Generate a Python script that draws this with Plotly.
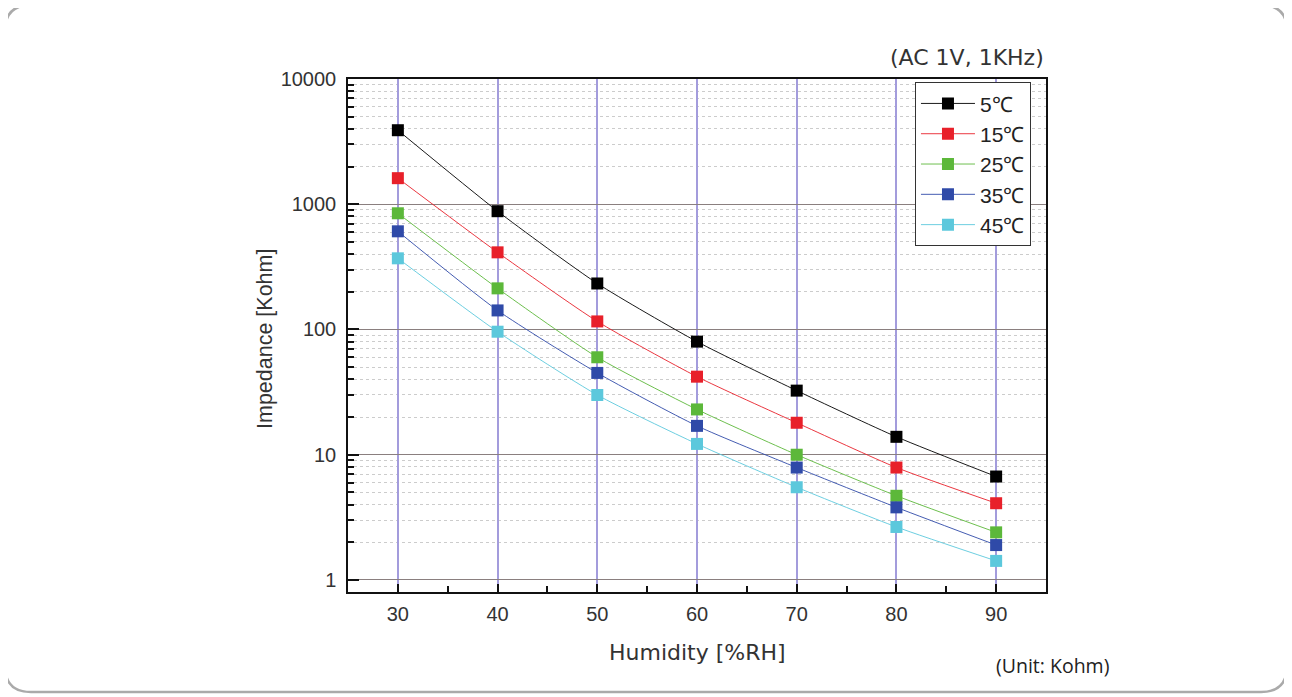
import plotly.graph_objects as go

humidity = [30, 40, 50, 60, 70, 80, 90]
series_names = ["5℃", "15℃", "25℃", "35℃", "45℃"]
imp_5 = [3900, 880, 233, 80, 32.5, 13.9, 6.7]
imp_15 = [1615, 413, 116, 42, 18, 7.9, 4.1]
imp_25 = [847, 213, 60, 23, 10, 4.7, 2.4]
imp_35 = [608, 142, 45, 17, 7.9, 3.8, 1.9]
imp_45 = [370, 96, 30, 12.2, 5.5, 2.65, 1.42]
colors = ["#000000", "#e8202a", "#5cb83a", "#2f4aa8", "#5cc8dc"]
y_tickvals = [1, 10, 100, 1000, 10000]
y_ticktext = ["1", "10", "100", "1000", "10000"]
x_tickvals = [30, 40, 50, 60, 70, 80, 90]
x_minor = [35, 45, 55, 65, 75, 85]

all_series = [imp_5, imp_15, imp_25, imp_35, imp_45]

fig = go.Figure()
for name, vals, c in zip(series_names, all_series, colors):
    fig.add_trace(go.Scatter(
        x=humidity, y=vals, name=name, mode="lines+markers",
        line=dict(color=c, width=0.9, shape="spline", smoothing=0.6),
        marker=dict(symbol="square", size=12, color=c),
    ))

minor_y = [m * 10 ** e for e in range(0, 4) for m in range(2, 10)]

# page body has an 8px margin: figure coords = page coords - 8
OFF = 8
FW, FH = 1284, 689
L, R, T, B = 348 - OFF, 1046 - OFF, 79 - OFF, 592 - OFF
W, H = R - L, B - T


def px(x):
    return (x - OFF - L) / W


def py(y):
    return (B - (y - OFF)) / H


# rounded outer border (page coords)
x0, x1, y0, y1, r = 5, 1287, 5, 692, 26
path = (f"M {px(x0 + r)},{py(y0)} L {px(x1 - r)},{py(y0)} "
        f"Q {px(x1)},{py(y0)} {px(x1)},{py(y0 + r)} "
        f"L {px(x1)},{py(y1 - r)} Q {px(x1)},{py(y1)} {px(x1 - r)},{py(y1)} "
        f"L {px(x0 + r)},{py(y1)} Q {px(x0)},{py(y1)} {px(x0)},{py(y1 - r)} "
        f"L {px(x0)},{py(y0 + r)} Q {px(x0)},{py(y0)} {px(x0 + r)},{py(y0)} Z")

fig.update_layout(
    width=FW, height=FH,
    margin=dict(l=L, r=FW - R, t=T, b=FH - B),
    paper_bgcolor="white", plot_bgcolor="white",
    font=dict(family="Liberation Sans, Arial, sans-serif", color="#333333"),
    showlegend=True,
    legend=dict(x=0.812, y=0.994, xanchor="left", yanchor="top",
                bgcolor="white", bordercolor="#333333", borderwidth=1.2,
                font=dict(size=21, color="#222222"), itemwidth=54,
                tracegroupgap=0),
    xaxis=dict(range=[25, 95], tickvals=x_tickvals, ticks="inside", ticklen=8,
               tickwidth=1.5, tickcolor="#111",
               showline=True, linecolor="#111", linewidth=1.5, mirror=True,
               showgrid=True, gridcolor="#a39cdc", gridwidth=1.5,
               tickfont=dict(size=20, color="#333"), ticklabelstandoff=3,
               minor=dict(tickvals=x_minor, ticks="inside", ticklen=6,
                          tickcolor="#111", showgrid=False),
               zeroline=False),
    yaxis=dict(type="log", range=[-0.096, 4.0], tickvals=y_tickvals, ticktext=y_ticktext,
               ticks="inside", ticklen=11, tickwidth=1.5, tickcolor="#111",
               showline=True, linecolor="#111", linewidth=1.5, mirror=True,
               showgrid=True, gridcolor="#8a7f7f", gridwidth=1,
               tickfont=dict(size=20, color="#333"), ticklabelstandoff=6,
               minor=dict(tickvals=minor_y, ticks="inside", ticklen=6, tickcolor="#111",
                          showgrid=True, gridcolor="#cccccc", griddash="dot", gridwidth=1),
               zeroline=False),
    shapes=[dict(type="path", xref="paper", yref="paper", path=path,
                 line=dict(color="#aaaaaa", width=2.5), layer="below")],
    annotations=[
        dict(text="(AC 1V, 1KHz)", xref="paper", yref="paper", x=px(1046), y=py(58),
             xanchor="right", yanchor="middle", showarrow=False,
             font=dict(family="DejaVu Sans", size=22, color="#333")),
        dict(text="(Unit: Kohm)", xref="paper", yref="paper", x=px(1111), y=py(665),
             xanchor="right", yanchor="middle", showarrow=False,
             font=dict(family="Open Sans", size=19.5, color="#222")),
        dict(text="Humidity [%RH]", xref="paper", yref="paper", x=px(697), y=py(652),
             xanchor="center", yanchor="middle", showarrow=False,
             font=dict(family="DejaVu Sans", size=22, color="#333")),
        dict(text="Impedance [Kohm]", xref="paper", yref="paper", x=px(265), y=py(339),
             xanchor="center", yanchor="middle", showarrow=False, textangle=-90,
             font=dict(family="Liberation Sans", size=21.5, color="#333")),
    ],
)

fig.write_html("out.html")
